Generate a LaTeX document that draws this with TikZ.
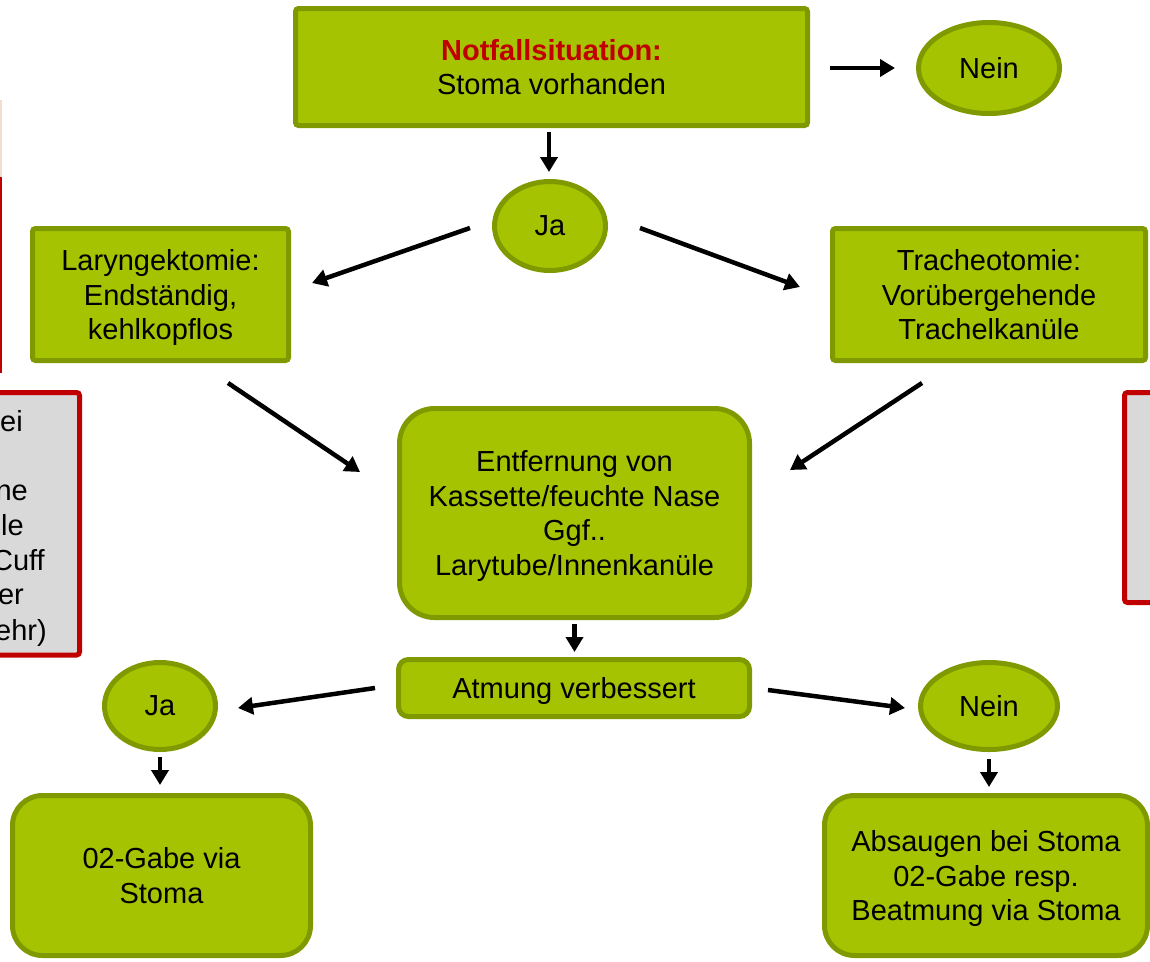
\documentclass[tikz,border=0pt]{standalone}
\usepackage{fontspec}
\setmainfont{Liberation Sans}
\usetikzlibrary{arrows.meta,calc,shapes.geometric}
\definecolor{lime}{HTML}{A5C300}
\definecolor{olivedark}{HTML}{7F9A00}
\definecolor{alarm}{HTML}{C00000}
\definecolor{palegray}{HTML}{D9D9D9}
\definecolor{peach}{HTML}{F3DCD2}
\begin{document}
\begin{tikzpicture}[x=1pt,y=-1pt,
 every node/.style={font=\fontsize{29}{34.5}\selectfont, align=center, inner sep=0pt},
 greenbox/.style={draw=olivedark, fill=lime, line width=5pt, rectangle, rounded corners=3pt, text depth=-5pt},
 roundbox/.style={greenbox, rounded corners=#1},
 oval/.style={draw=olivedark, fill=lime, line width=5pt, ellipse},
 arr/.style={line width=4.5pt, -{Triangle[length=15pt,width=17pt]}},
 note/.style={draw=alarm, fill=palegray, line width=5pt, rectangle, rounded corners=3pt},
 frag/.style={anchor=base east}
]
\useasboundingbox (0,0) rectangle (1150,961);

% partial side notes (cut off by the picture edge)
\draw[peach, line width=2.5pt] (1,100) -- (1,177);
\draw[alarm, line width=2.5pt] (1,177) -- (1,373);
\node[note, minimum width=119.5pt, minimum height=262.5pt] (leftnote) at (19.75,523.75) {};
\node[frag] (f1) at (23,431) {ei};
\node[frag] (f2) at (28,500) {ne};
\node[frag] (f3) at (24,535) {le};
\node[frag] (f4) at (45,570) {Cuff};
\node[frag] (f5) at (24,604) {er};
\node[frag] (f6) at (47,640) {ehr)};
\node[note, minimum width=75.5pt, minimum height=210pt] (rightnote) at (1162.25,497.5) {};

% nodes
\node[greenbox, text depth=0pt, minimum width=512pt, minimum height=117pt] (top) at (551.5,67)
  {\textcolor{alarm}{\bfseries Notfallsituation:}\\Stoma vorhanden};
\node[oval, minimum width=141pt, minimum height=91pt] (nein1) at (989,68) {Nein};
\node[oval, minimum width=111pt, minimum height=89pt] (ja) at (550,226) {Ja};
\node[greenbox, minimum width=256pt, minimum height=132pt] (lar) at (160.5,294.5)
  {Laryngektomie:\\Endständig,\\kehlkopflos};
\node[greenbox, minimum width=313pt, minimum height=132pt] (tra) at (989,294.5)
  {Tracheotomie:\\Vorübergehende\\Trachelkanüle};
\node[roundbox=35pt, minimum width=350pt, minimum height=209pt] (mid) at (574.5,513)
  {Entfernung von\\Kassette/feuchte Nase\\Ggf..\\Larytube/Innenkanüle};
\node[roundbox=10pt, text depth=-2pt, minimum width=351pt, minimum height=57pt] (atm) at (574,688) {Atmung verbessert};
\node[oval, minimum width=111pt, minimum height=87pt] (ja2) at (160,706) {Ja};
\node[oval, minimum width=137pt, minimum height=87pt] (nein2) at (989,706) {Nein};
\node[roundbox=30pt, minimum width=298pt, minimum height=160pt] (gabe) at (161.5,875.5)
  {02-Gabe via\\Stoma};
\node[roundbox=30pt, minimum width=323pt, minimum height=160pt] (absaug) at (986,875.5)
  {Absaugen bei Stoma\\02-Gabe resp.\\Beatmung via Stoma};

% connectors
\draw[arr] ($(top.east)+(20,1)$) -- ($(nein1.west)+(-21,0)$);
\draw[arr] ($(top.south -| ja.north)+(-1,4)$) -- ($(ja.north)+(-1,-7)$);
\draw[arr] ($(ja.west)+(-22,2)$) -- ($(lar.east)+(21,-11.5)$);
\draw[arr] ($(ja.east)+(32,2)$) -- ($(tra.west)+(-30,-7.5)$);
\draw[arr] ($(lar.south)+(67.5,20)$) -- ($(mid.west)+(-37,-41)$);
\draw[arr] ($(tra.south)+(-67,20)$) -- ($(mid.east)+(38,-43)$);
\draw[arr] ($(mid.south)+(0,4)$) -- ($(mid.south |- atm.north)+(0,-5)$);
\draw[arr] ($(atm.west)+(-21,0)$) -- ($(ja2.east)+(20,2)$);
\draw[arr] ($(atm.east)+(16,2)$) -- ($(nein2.west)+(-13,2)$);
\draw[arr] ($(ja2.south)+(0,5)$) -- ($(ja2.south |- gabe.north)+(0,-8)$);
\draw[arr] ($(nein2.south)+(0,7)$) -- ($(nein2.south |- absaug.north)+(0,-6)$);
\end{tikzpicture}
\end{document}
